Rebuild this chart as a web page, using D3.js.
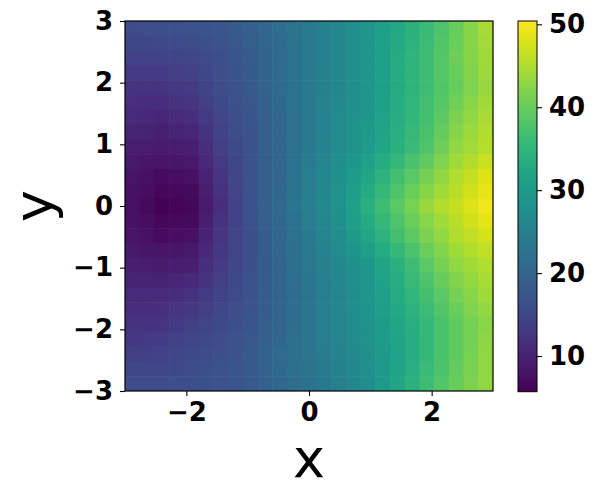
<!DOCTYPE html>
<html>
<head>
<meta charset="utf-8">
<script src="https://cdn.jsdelivr.net/npm/d3@7"></script>
<style>
  html, body { margin: 0; padding: 0; background: #fff; }
  svg { display: block; }
  text { font-family: "DejaVu Sans", sans-serif; }
</style>
</head>
<body>
<svg id="chart" width="599" height="497"></svg>
<script>
// Cell centres (x left→right, y top→bottom)
const xValues = [-3,-2.75,-2.5,-2.25,-2,-1.75,-1.5,-1.25,-1,-0.75,-0.5,-0.25,0,0.25,0.5,0.75,1,1.25,1.5,1.75,2,2.25,2.5,2.75,3];
const yValues = [3,2.75,2.5,2.25,2,1.75,1.5,1.25,1,0.75,0.5,0.25,0,-0.25,-0.5,-0.75,-1,-1.25,-1.5,-1.75,-2,-2.25,-2.5,-2.75,-3];
// Estimated field values, one row per yValue (top to bottom)
const zRows = [
 [16,16.2,16.5,16.8,17,17.2,17.5,18.2,19,20.2,21.5,22.8,24,25.2,26.5,27.8,29,30.8,32.5,34.2,36,38,40,42.2,44.5],
 [15.2,15.3,15.5,15.8,16,16.5,17,17.8,18.8,20,21.2,22.6,24,25.2,26.5,27.8,29,30.9,32.8,34.5,36.2,38.2,40.2,42.2,44.2],
 [14.5,14.5,14.5,14.8,15,15.7,16.5,17.5,18.5,19.8,21,22.5,24,25.2,26.5,27.8,29,31,33,34.8,36.5,38.5,40.5,42.2,44],
 [13.5,13.5,13.5,13.9,14.2,15.2,16.2,17.2,18.2,19.6,21,22.5,24,25.2,26.5,27.8,29,31,33,34.8,36.5,38.4,40.2,42,43.8],
 [12.5,12.5,12.5,13,13.5,14.8,16,17,18,19.5,21,22.5,24,25.2,26.5,27.8,29,31,33,34.8,36.5,38.2,40,41.8,43.5],
 [11.8,11.6,11.5,12,12.5,14,15.5,16.6,17.8,19.2,20.8,22.4,24,25.4,26.8,28,29.2,31.2,33.2,35,36.8,38.7,40.7,42.4,44],
 [11,10.8,10.5,11,11.5,13.2,15,16.3,17.5,19,20.5,22.2,24,25.5,27,28.2,29.5,31.5,33.5,35.2,37,39.2,41.5,43,44.5],
 [10.2,10,9.7,10.1,10.5,12.3,14.5,15.9,17.2,18.9,20.5,22.2,24,25.5,27,28.4,29.8,31.8,33.8,35.6,37.5,39.8,42.2,43.6,45],
 [9.5,9.2,9,9.2,9.5,11.5,14,15.5,17,18.8,20.5,22.2,24,25.5,27,28.5,30,32,34,36,38,40.5,43,44.2,45.5],
 [8.7,8.3,8,8.2,8.5,10.7,13.2,15.2,17,18.8,20.5,22.4,24.2,25.8,27.5,29.2,31,33.2,35.5,37.5,39.5,41.8,44,45.3,46.8],
 [8,7.5,7,7.2,7.5,10,12.5,15,17,18.8,20.5,22.5,24.5,26.2,28,30,32,34.5,37,39,41,43,45,46.5,48],
 [7.7,7.1,6.4,6.6,6.9,9.4,12,14.7,17,18.9,20.8,22.8,24.8,26.5,28.2,30.6,33,35.5,38,40.1,42.2,44,45.8,47.2,48.8],
 [7.5,6.8,6,6.2,6.5,9,11.5,14.5,17,19,21,23,25,26.8,28.5,31.2,34,36.5,39,41.2,43.5,45,46.5,48,49.5],
 [7.7,7.1,6.4,6.6,6.9,9.4,12,14.6,16.8,18.8,20.8,22.6,24.5,26.3,28,30.5,33,35.5,38,40.2,42.5,44.1,45.8,47.1,48.5],
 [8,7.5,7,7.2,7.5,10,12.5,14.8,16.5,18.5,20.5,22.2,24,25.8,27.5,29.8,32,34.5,37,39.2,41.5,43.2,45,46.2,47.5],
 [8.7,8.3,8,8.2,8.5,10.7,13,14.9,16.5,18.3,20.2,22,23.8,25.4,27,28.9,30.8,33.1,35.5,37.8,40.2,42.1,44,45.1,46.2],
 [9.5,9.2,9,9.2,9.5,11.5,13.5,15,16.5,18.2,20,21.8,23.5,25,26.5,28,29.5,31.8,34,36.5,39,41,43,44,45],
 [10.2,10.1,10,10.3,10.7,12.3,14,15.4,16.8,18.4,20,21.6,23.2,24.8,26.2,27.8,29.2,31.4,33.5,35.8,38,40,42,43.2,44.5],
 [11,11,11,11.5,12,13.2,14.5,15.8,17,18.5,20,21.5,23,24.5,26,27.5,29,31,33,35,37,39,41,42.5,44],
 [11.5,11.6,11.8,12.4,13,14,15,16.2,17.2,18.6,20,21.5,23,24.5,26,27.4,28.8,30.6,32.5,34.4,36.2,38.2,40.2,41.8,43.2],
 [12,12.2,12.5,13.2,14,14.8,15.5,16.5,17.5,18.8,20,21.5,23,24.5,26,27.2,28.5,30.2,32,33.8,35.5,37.5,39.5,41,42.5],
 [13,13.2,13.5,14.1,14.8,15.4,16,16.9,17.8,19.2,20.5,21.8,23,24.4,25.8,27,28.2,30,31.8,33.6,35.5,37.5,39.5,41.1,42.8],
 [14,14.2,14.5,15,15.5,16,16.5,17.2,18,19.5,21,22,23,24.2,25.5,26.8,28,29.8,31.5,33.5,35.5,37.5,39.5,41.2,43],
 [15,15.1,15.2,15.6,16,16.4,16.8,17.4,18,19.4,20.8,21.8,22.8,24,25.2,26.5,27.8,29.8,31.8,33.8,36,37.8,39.8,41.4,43],
 [16,16,16,16.2,16.5,16.8,17,17.5,18,19.2,20.5,21.5,22.5,23.8,25,26.2,27.5,29.8,32,34.2,36.5,38.2,40,41.5,43]
];
const xTicks = [-2, 0, 2];
const yTicks = [-3, -2, -1, 0, 1, 2, 3];
const colorTicks = [10, 20, 30, 40, 50];
const colorDomain = [5.7, 50.4];

const svg = d3.select("#chart");
const plot = { left: 125, right: 493, top: 21, bottom: 391 };
const cbar = { left: 518, right: 537, top: 21, bottom: 391.7 };

const x = d3.scaleLinear().domain([-3, 3]).range([plot.left, plot.right]);
const y = d3.scaleLinear().domain([-3, 3]).range([plot.bottom, plot.top]);
const xBand = d3.scaleBand().domain(d3.range(xValues.length)).range([plot.left, plot.right]);
const yBand = d3.scaleBand().domain(d3.range(yValues.length)).range([plot.top, plot.bottom]);
const color = d3.scaleSequential(d3.interpolateViridis).domain(colorDomain);

const cells = [];
zRows.forEach((row, j) => row.forEach((v, i) => cells.push({ i, j, v })));

const defs = svg.append("defs");
defs.append("clipPath").attr("id", "plotclip").append("rect")
  .attr("x", plot.left).attr("y", plot.top)
  .attr("width", plot.right - plot.left).attr("height", plot.bottom - plot.top);

svg.append("g").attr("clip-path", "url(#plotclip)")
  .selectAll("rect").data(cells).join("rect")
  .attr("x", d => xBand(d.i))
  .attr("y", d => yBand(d.j))
  .attr("width", xBand.bandwidth() + 0.6)
  .attr("height", yBand.bandwidth() + 0.6)
  .attr("fill", d => color(d.v));

svg.append("rect")
  .attr("x", plot.left).attr("y", plot.top)
  .attr("width", plot.right - plot.left).attr("height", plot.bottom - plot.top)
  .attr("fill", "none").attr("stroke", "#000").attr("stroke-width", 1.2);

const tickFont = 26;
const xAxis = svg.append("g").attr("transform", `translate(0,${plot.bottom})`)
  .call(d3.axisBottom(x).tickValues(xTicks).tickSize(5).tickPadding(7).tickFormat(d3.format("d")));
const yAxis = svg.append("g").attr("transform", `translate(${plot.left},0)`)
  .call(d3.axisLeft(y).tickValues(yTicks).tickSize(5).tickPadding(7).tickFormat(d3.format("d")));
[xAxis, yAxis].forEach(g => {
  g.select(".domain").remove();
  g.selectAll(".tick line").attr("stroke", "#000").attr("stroke-width", 1.1);
  g.selectAll(".tick text").attr("font-size", tickFont).attr("font-weight", "bold")
    .attr("fill", "#000").style("font-family", "DejaVu Sans");
});

// Colorbar
const cy = d3.scaleLinear().domain(colorDomain).range([cbar.bottom, cbar.top]);
const grad = defs.append("linearGradient").attr("id", "cgrad")
  .attr("x1", 0).attr("y1", 1).attr("x2", 0).attr("y2", 0);
d3.range(0, 1.0001, 0.05).forEach(t => {
  grad.append("stop").attr("offset", t)
    .attr("stop-color", color(colorDomain[0] + t * (colorDomain[1] - colorDomain[0])));
});
svg.append("rect")
  .attr("x", cbar.left).attr("y", cbar.top)
  .attr("width", cbar.right - cbar.left).attr("height", cbar.bottom - cbar.top)
  .attr("fill", "url(#cgrad)").attr("stroke", "#000").attr("stroke-width", 1);
const cAxis = svg.append("g").attr("transform", `translate(${cbar.right},0)`)
  .call(d3.axisRight(cy).tickValues(colorTicks).tickSize(5).tickPadding(7).tickFormat(d3.format("d")));
cAxis.select(".domain").remove();
cAxis.selectAll(".tick line").attr("stroke", "#000").attr("stroke-width", 1.1);
cAxis.selectAll(".tick text").attr("font-size", tickFont).attr("font-weight", "bold")
  .attr("fill", "#000").style("font-family", "DejaVu Sans");

// Axis labels
svg.append("text").attr("x", (plot.left + plot.right) / 2).attr("y", 477)
  .attr("text-anchor", "middle").attr("font-size", 54).attr("fill", "#000").text("x");
svg.append("text").attr("transform", `translate(52,${(plot.top + plot.bottom) / 2}) rotate(-90)`)
  .attr("text-anchor", "middle").attr("font-size", 54).attr("fill", "#000").text("y");
</script>
</body>
</html>
